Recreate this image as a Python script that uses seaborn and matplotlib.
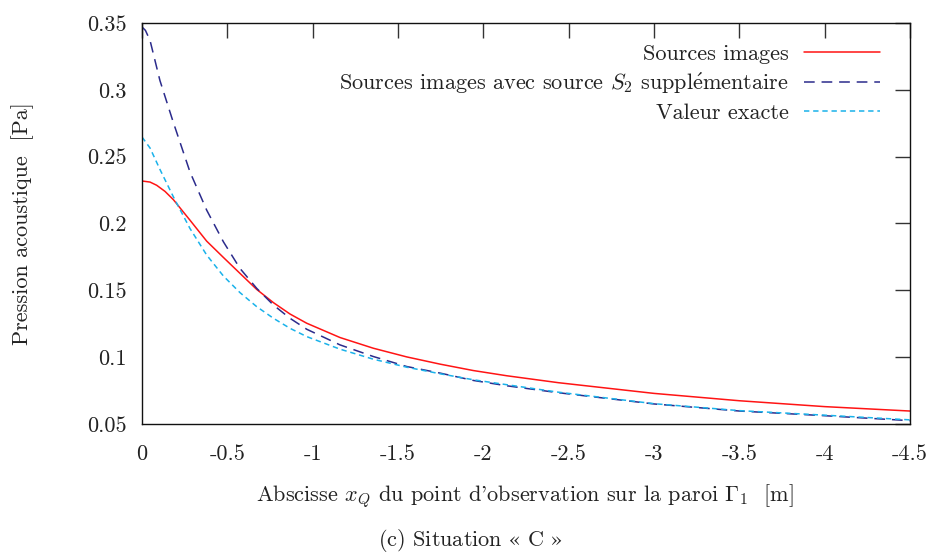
import numpy as np
import pandas as pd
import matplotlib
matplotlib.use("Agg")
import matplotlib.pyplot as plt
import seaborn as sns

# ---- data ----
x_red = [0.0, -0.047, -0.086, -0.135, -0.184, -0.281, -0.379, -0.477, -0.574, -0.672, -0.770,
         -0.867, -0.965, -1.160, -1.355, -1.551, -1.746, -1.941, -2.137, -2.44, -3.0,
         -3.5, -4.0, -4.5]
y_red = [0.2318, 0.2310, 0.2286, 0.2240, 0.2178, 0.2025, 0.1868, 0.1746, 0.1627, 0.1507, 0.1408,
         0.1323, 0.1254, 0.1147, 0.1067, 0.1002, 0.0948, 0.0900, 0.0861, 0.0809, 0.0729,
         0.0674, 0.0630, 0.0597]

x_navy = [0.0, -0.02, -0.047, -0.105, -0.18, -0.281, -0.379, -0.477, -0.574, -0.672,
          -0.770, -0.867, -0.965, -1.160, -1.355, -1.551, -1.746, -1.941, -2.137, -2.44,
          -3.0, -3.5, -4.0, -4.5]
y_navy = [0.3470, 0.3445, 0.3370, 0.3070, 0.2770, 0.2386, 0.2100, 0.1863, 0.1664, 0.1515,
          0.1390, 0.1291, 0.1209, 0.1092, 0.1005, 0.0930, 0.0881, 0.0826, 0.0786, 0.0734,
          0.0650, 0.0597, 0.0562, 0.0525]

x_cyan = [0.0, -0.047, -0.105, -0.184, -0.281, -0.379, -0.477, -0.574, -0.672, -0.770,
          -0.867, -0.965, -1.160, -1.355, -1.551, -1.746, -1.941, -2.137, -2.44, -3.0,
          -3.5, -4.0, -4.5]
y_cyan = [0.2647, 0.2565, 0.2405, 0.2199, 0.1963, 0.1764, 0.1607, 0.1483, 0.1378, 0.1291,
          0.1216, 0.1154, 0.1060, 0.0985, 0.0925, 0.0876, 0.0831, 0.0794, 0.0738, 0.0652,
          0.0600, 0.0566, 0.0531]

labels = ["Sources images",
          r"Sources images avec source $S_2$ suppl$\mathrm{\acute{e}}$mentaire",
          "Valeur exacte"]

x_ticks = [0, -0.5, -1, -1.5, -2, -2.5, -3, -3.5, -4, -4.5]
x_ticklabels = ["0", "-0.5", "-1", "-1.5", "-2", "-2.5", "-3", "-3.5", "-4", "-4.5"]
y_ticks = [0.05, 0.1, 0.15, 0.2, 0.25, 0.3, 0.35]
y_ticklabels = ["0.05", "0.1", "0.15", "0.2", "0.25", "0.3", "0.35"]

sns.set_theme(style="white")
plt.rcParams["font.family"] = ["cmr10", "DejaVu Serif"]
plt.rcParams["mathtext.fontset"] = "cm"
plt.rcParams["axes.unicode_minus"] = False

FS = 16
TXT = "#222222"

fig = plt.figure(figsize=(9.29, 5.55), dpi=100)
ax = fig.add_axes([142 / 929, 1 - 424 / 555, (910 - 142) / 929, (424 - 23) / 555])

series = [
    (x_red, y_red, "#ff1414", "-", labels[0]),
    (x_navy, y_navy, "#2b2b8c", (0, (7, 4.5)), labels[1]),
    (x_cyan, y_cyan, "#1ab2ea", (0, (3.5, 2.5)), labels[2]),
]
for xs, ys, col, ls, lab in series:
    df = pd.DataFrame({"x": xs, "y": ys})
    sns.lineplot(data=df, x="x", y="y", ax=ax, color=col, linestyle=ls,
                 linewidth=1.1, label=lab, sort=False, estimator=None)

ax.set_xlim(0, -4.5)
ax.set_ylim(0.05, 0.35)
ax.set_xticks(x_ticks)
ax.set_xticklabels(x_ticklabels)
ax.set_yticks(y_ticks)
ax.set_yticklabels(y_ticklabels)
ax.tick_params(direction="in", length=11, width=1.0, color="#333333",
               top=True, right=True, labelsize=FS, labelcolor=TXT)
ax.tick_params(axis="x", pad=15)
ax.tick_params(axis="y", pad=11)
for sp in ax.spines.values():
    sp.set_visible(True)
    sp.set_color("#111111")
    sp.set_linewidth(1.0)

ax.set_xlabel(r"Abscisse $x_Q$ du point d'observation sur la paroi $\Gamma_1$  [m]",
              fontsize=FS, color=TXT)
ax.xaxis.set_label_coords((525 - 142) / 768, (424 - 496) / 401)
ax.xaxis.label.set_va("center")
ax.set_ylabel("Pression acoustique  [Pa]", fontsize=FS, color=TXT)
ax.yaxis.set_label_coords((23 - 142) / 768, 0.5)
ax.yaxis.label.set_va("center")

leg = ax.legend(loc="upper right", frameon=False, markerfirst=False, fontsize=FS,
                handlelength=3.4, labelspacing=0.34, handletextpad=0.7,
                borderaxespad=0.0, borderpad=0.0,
                bbox_to_anchor=((880 - 142) / 768, 1 - (44 - 23) / 401))
for t in leg.get_texts():
    t.set_color(TXT)

fig.text(470 / 929, 1 - 541 / 555, "(c) Situation $«$ C $»$", ha="center", va="center",
         fontsize=FS, color=TXT, math_fontfamily="stix")

fig.savefig("out.png", dpi=100)
